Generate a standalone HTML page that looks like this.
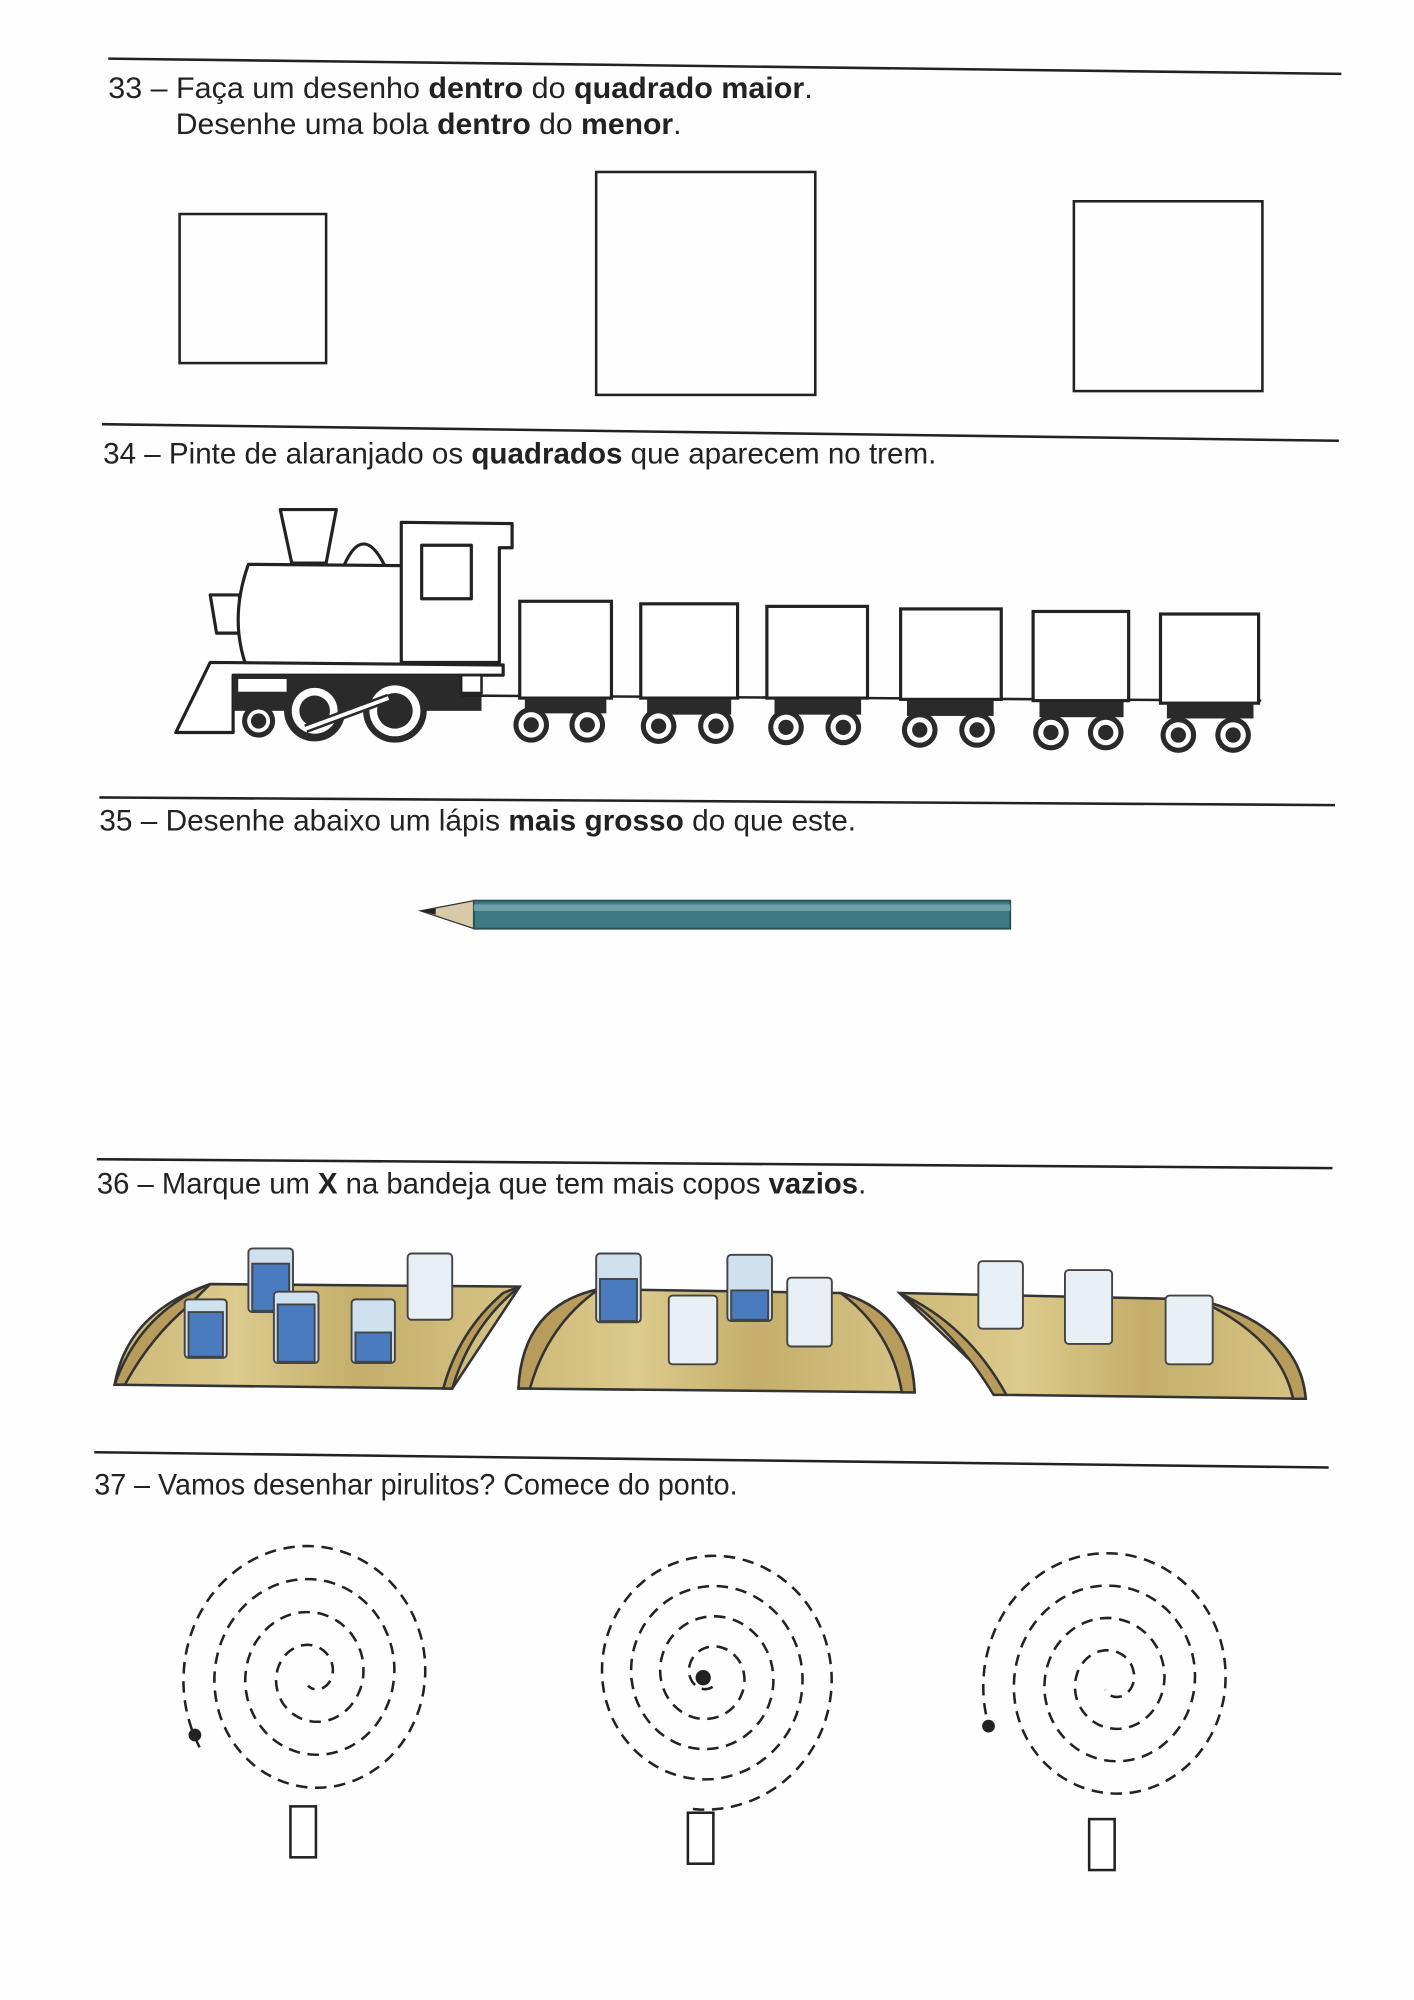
<!DOCTYPE html>
<html><head><meta charset="utf-8"><style>
html,body{margin:0;padding:0;background:#fff;}
svg{display:block;}
text{font-family:"Liberation Sans",sans-serif;font-size:23px;fill:#222;}
</style></head><body>
<svg width="1414" height="2000" viewBox="0 0 1110 1570" xmlns="http://www.w3.org/2000/svg">
<rect width="1110" height="1570" fill="#fefefe"/>
<g stroke="#222" stroke-width="2" fill="none">
<line x1="85" y1="46" x2="1053" y2="58"/>
<line x1="80" y1="333" x2="1051" y2="346"/>
<line x1="78" y1="626" x2="1048" y2="632"/>
<line x1="76" y1="910" x2="1046" y2="917"/>
<line x1="74" y1="1140" x2="1043" y2="1152"/>
</g>
<text x="85" y="77" textLength="553" lengthAdjust="spacingAndGlyphs">33 –  Faça um desenho <tspan font-weight="bold">dentro</tspan> do <tspan font-weight="bold">quadrado maior</tspan>.</text>
<text x="138" y="105" textLength="397" lengthAdjust="spacingAndGlyphs">Desenhe uma bola <tspan font-weight="bold">dentro</tspan> do <tspan font-weight="bold">menor</tspan>.</text>
<g stroke="#222" stroke-width="2" fill="none">
<rect x="141" y="168" width="115" height="117"/>
<rect x="468" y="135" width="172" height="175"/>
<rect x="843" y="158" width="148" height="149"/>
</g>
<text x="81" y="364" textLength="654" lengthAdjust="spacingAndGlyphs">34 –  Pinte de alaranjado os <tspan font-weight="bold">quadrados</tspan> que aparecem no trem.</text>
<!-- train -->
<g stroke="#222" stroke-width="2.5" fill="#fff" stroke-linejoin="round">
<path d="M220,400 L264,400 L256,442 L229,442 Z"/>
<path d="M270,444 Q285,410 302,444 Z"/>
<path d="M165,467 L188,467 L188,497 L170,497 Z"/>
<path d="M195,443 L316,444 L316,522 L193,522 Q180,485 195,443 Z"/>
<path d="M315,410 L402,411 L402,430 L392,430 L392,520 L315,520 Z"/>
<rect x="331" y="428" width="39" height="42"/>
<path d="M138,575 L165,520 L395,522 L395,530 L183,530 L183,575 Z"/>
</g>
<rect x="183" y="530" width="195" height="28" fill="#2a2a2a"/>
<rect x="187" y="533" width="38" height="10" fill="#fff"/>
<rect x="362" y="530" width="16" height="14" fill="#fff" stroke="#222" stroke-width="2"/>
<line x1="362" y1="546" x2="990" y2="550" stroke="#222" stroke-width="2"/>
<g>
<circle cx="203" cy="566" r="13" fill="#2a2a2a"/><circle cx="203" cy="566" r="9" fill="#fff"/><circle cx="203" cy="566" r="6" fill="#2a2a2a"/>
<circle cx="247" cy="558" r="24" fill="#2a2a2a"/><circle cx="247" cy="558" r="18" fill="#fff"/><circle cx="247" cy="558" r="12" fill="#2a2a2a"/>
<circle cx="310" cy="558" r="25" fill="#2a2a2a"/><circle cx="310" cy="558" r="20" fill="#fff"/><circle cx="310" cy="558" r="14" fill="#2a2a2a"/>
<line x1="240" y1="572" x2="305" y2="548" stroke="#2a2a2a" stroke-width="7"/>
<line x1="240" y1="572" x2="305" y2="548" stroke="#fff" stroke-width="3"/>
</g>
<g stroke="#222" stroke-width="2.5" fill="#fff">
<rect x="408" y="472" width="72" height="76"/>
<rect x="503" y="474" width="76" height="74"/>
<rect x="602" y="476" width="79" height="72"/>
<rect x="707" y="478" width="79" height="71"/>
<rect x="811" y="480" width="75" height="70"/>
<rect x="911" y="482" width="77" height="70"/>
</g>
<g fill="#2a2a2a">
<rect x="412" y="548" width="64" height="12"/><rect x="508" y="549" width="66" height="12"/>
<rect x="608" y="549" width="68" height="12"/><rect x="712" y="550" width="68" height="12"/>
<rect x="816" y="551" width="66" height="12"/><rect x="916" y="552" width="68" height="12"/>
</g>
<g>
<g transform="translate(417,569)"><circle r="14" fill="#2a2a2a"/><circle r="10" fill="#fff"/><circle r="6" fill="#2a2a2a"/></g>
<g transform="translate(461,569)"><circle r="14" fill="#2a2a2a"/><circle r="10" fill="#fff"/><circle r="6" fill="#2a2a2a"/></g>
<g transform="translate(517,570)"><circle r="14" fill="#2a2a2a"/><circle r="10" fill="#fff"/><circle r="6" fill="#2a2a2a"/></g>
<g transform="translate(562,570)"><circle r="14" fill="#2a2a2a"/><circle r="10" fill="#fff"/><circle r="6" fill="#2a2a2a"/></g>
<g transform="translate(617,571)"><circle r="14" fill="#2a2a2a"/><circle r="10" fill="#fff"/><circle r="6" fill="#2a2a2a"/></g>
<g transform="translate(662,571)"><circle r="14" fill="#2a2a2a"/><circle r="10" fill="#fff"/><circle r="6" fill="#2a2a2a"/></g>
<g transform="translate(722,573)"><circle r="14" fill="#2a2a2a"/><circle r="10" fill="#fff"/><circle r="6" fill="#2a2a2a"/></g>
<g transform="translate(767,573)"><circle r="14" fill="#2a2a2a"/><circle r="10" fill="#fff"/><circle r="6" fill="#2a2a2a"/></g>
<g transform="translate(825,575)"><circle r="14" fill="#2a2a2a"/><circle r="10" fill="#fff"/><circle r="6" fill="#2a2a2a"/></g>
<g transform="translate(868,575)"><circle r="14" fill="#2a2a2a"/><circle r="10" fill="#fff"/><circle r="6" fill="#2a2a2a"/></g>
<g transform="translate(925,577)"><circle r="14" fill="#2a2a2a"/><circle r="10" fill="#fff"/><circle r="6" fill="#2a2a2a"/></g>
<g transform="translate(968,577)"><circle r="14" fill="#2a2a2a"/><circle r="10" fill="#fff"/><circle r="6" fill="#2a2a2a"/></g>
</g>
<text x="78" y="652" textLength="594" lengthAdjust="spacingAndGlyphs">35 –  Desenhe abaixo um lápis <tspan font-weight="bold">mais grosso</tspan> do que este.</text>
<!-- pencil -->
<path d="M330,715 L372,707 L372,729 Z" fill="#d8c9a8" stroke="#333" stroke-width="1"/>
<path d="M330,715 L342,713 L342,718 Z" fill="#222"/>
<rect x="372" y="707" width="421" height="22" fill="#3d7c84" stroke="#2a4f55" stroke-width="1.5"/>
<rect x="372" y="710" width="421" height="5" fill="#6ea2a8"/>
<text x="76" y="937" textLength="604" lengthAdjust="spacingAndGlyphs">36 – Marque um <tspan font-weight="bold">X</tspan> na bandeja que tem mais copos <tspan font-weight="bold">vazios</tspan>.</text>
<defs>
<linearGradient id="wood" x1="0" x2="1"><stop offset="0" stop-color="#cdb876"/><stop offset="0.3" stop-color="#dccb8e"/><stop offset="0.6" stop-color="#c4ae6a"/><stop offset="1" stop-color="#d7c486"/></linearGradient>
</defs>
<g stroke="#333" stroke-width="2" fill="url(#wood)">
<path d="M90,1087 Q100,1030 165,1008 L408,1010 L355,1090 Z"/>
<path d="M90,1087 Q110,1030 165,1008 L148,1025 Q118,1050 98,1087 Z" fill="#b89c5c"/>
<path d="M408,1010 Q370,1040 355,1090 L348,1090 Q360,1045 395,1015 Z" fill="#b89c5c"/>
<path d="M407,1090 Q410,1025 470,1012 L660,1015 Q715,1030 718,1093 Z"/>
<path d="M407,1090 Q410,1025 470,1012 Q430,1040 416,1090 Z" fill="#b89c5c"/>
<path d="M718,1093 Q715,1030 660,1015 Q700,1045 708,1093 Z" fill="#b89c5c"/>
<path d="M706,1015 L940,1020 Q1020,1040 1025,1098 L790,1095 Z"/>
<path d="M706,1015 Q760,1040 790,1095 L780,1095 Q750,1045 706,1015 Z" fill="#b89c5c"/>
<path d="M1025,1098 Q1020,1040 940,1020 Q1005,1050 1015,1098 Z" fill="#b89c5c"/>
</g>
<g stroke="#444" stroke-width="1.5">
<g fill="#cfe0ee">
<rect x="195" y="980" width="35" height="50" rx="3"/><rect x="198" y="992" width="29" height="37" fill="#4a7bbf"/>
<rect x="145" y="1020" width="33" height="46" rx="3"/><rect x="148" y="1030" width="27" height="35" fill="#4a7bbf"/>
<rect x="215" y="1014" width="35" height="56" rx="3"/><rect x="218" y="1024" width="29" height="45" fill="#4a7bbf"/>
<rect x="276" y="1020" width="34" height="50" rx="3"/><rect x="279" y="1046" width="28" height="23" fill="#4a7bbf"/>
<rect x="320" y="984" width="35" height="52" rx="3" fill="#e8f0f6"/>
<rect x="468" y="984" width="35" height="54" rx="3"/><rect x="471" y="1004" width="29" height="33" fill="#4a7bbf"/>
<rect x="525" y="1017" width="38" height="54" rx="3" fill="#e8f0f6"/>
<rect x="571" y="985" width="35" height="52" rx="3"/><rect x="574" y="1013" width="29" height="23" fill="#4a7bbf"/>
<rect x="618" y="1003" width="35" height="54" rx="3" fill="#e8f0f6"/>
<rect x="768" y="990" width="35" height="53" rx="3" fill="#e8f0f6"/>
<rect x="836" y="997" width="37" height="58" rx="3" fill="#e8f0f6"/>
<rect x="915" y="1017" width="37" height="54" rx="3" fill="#e8f0f6"/>
</g>
</g>
<text x="74" y="1173" textLength="505" lengthAdjust="spacingAndGlyphs">37 – Vamos desenhar pirulitos? Comece do ponto.</text>
<g stroke="#222" stroke-width="2" fill="none" stroke-dasharray="9,6" id="spirals"></g>
<g stroke="#222" stroke-width="2" fill="#fff">
<rect x="228" y="1418" width="20" height="40"/>
<rect x="540" y="1423" width="20" height="40"/>
<rect x="855" y="1428" width="20" height="40"/>
</g>
<g fill="#222">
<circle cx="153" cy="1362" r="5"/>
<circle cx="552" cy="1317" r="6"/>
<circle cx="776" cy="1355" r="5"/>
</g>
</svg>
<script>
(function(){
var g=document.getElementById('spirals');
function sp(cx,cy,rx,ry,startAng,turns,dir){
 var pts=[],N=500;
 for(var i=0;i<=N;i++){var t=i/N;var a=startAng+dir*t*turns*2*Math.PI;var k=1-t*0.92;
  pts.push((cx+rx*k*Math.cos(a)).toFixed(1)+','+(cy+ry*k*Math.sin(a)).toFixed(1));}
 var p=document.createElementNS('http://www.w3.org/2000/svg','path');
 p.setAttribute('d','M'+pts.join(' L'));g.appendChild(p);
}
sp(245,1315,103,110,2.6,3.9,1);
sp(557,1315,102,106,1.7,4.1,-1);
sp(873,1320,102,108,2.9,3.9,1);
})();
</script>
</body></html>
